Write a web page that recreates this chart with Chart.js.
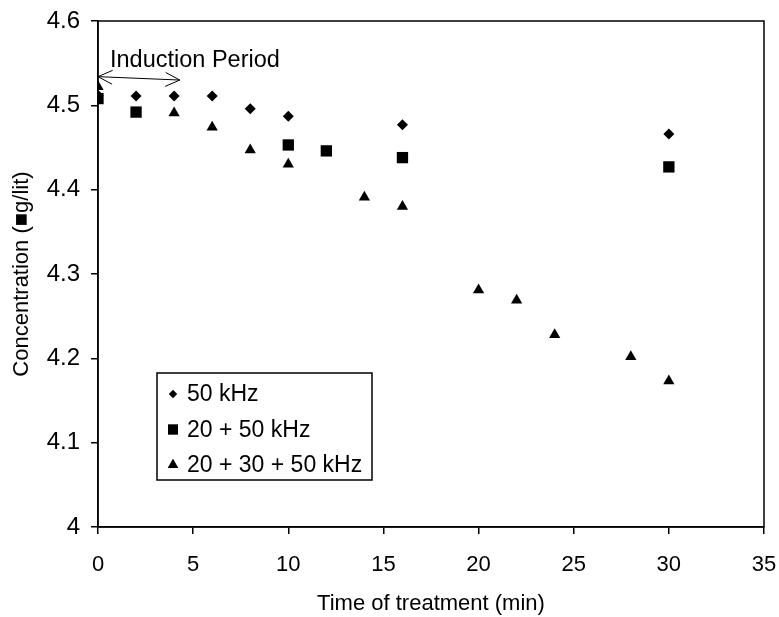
<!DOCTYPE html>
<html>
<head>
<meta charset="utf-8">
<script src="https://cdn.jsdelivr.net/npm/chart.js@4"></script>
<style>
  html, body { margin: 0; padding: 0; background: #fff; }
  #wrap { width: 779px; height: 617px; }
</style>
</head>
<body>
<div id="wrap"><canvas id="chart" width="779" height="617"></canvas></div>
<script>
// data
const timeA = [0, 2, 4, 6, 8, 10, 16, 30];
const concA = [4.512, 4.511, 4.511, 4.511, 4.496, 4.487, 4.477, 4.466];
const timeB = [0, 2, 10, 12, 16, 30];
const concB = [4.508, 4.492, 4.453, 4.446, 4.438, 4.427];
const timeC = [0, 4, 6, 8, 10, 14, 16, 20, 22, 24, 28, 30];
const concC = [4.522, 4.491, 4.474, 4.447, 4.43, 4.391, 4.38, 4.281, 4.269, 4.228, 4.202, 4.173];
const seriesNames = ['50 kHz', '20 + 50 kHz', '20 + 30 + 50 kHz'];
const xTicks = [0, 5, 10, 15, 20, 25, 30, 35];
const yTicks = [4, 4.1, 4.2, 4.3, 4.4, 4.5, 4.6];
// induction period arrow (time, conc)
const arrowFrom = [0, 4.534];
const arrowTo = [4.3, 4.530];
const arrowLabel = 'Induction Period';
const arrowLabelAt = [0.63, 4.545];

const font = 'Liberation Sans, Arial, sans-serif';
const ctx = document.querySelector('#chart').getContext('2d');

function pairs(xs, ys) {
    return xs.map((x, i) => ({x: x, y: ys[i]}));
}

const frame = {
    id: 'frame',
    afterDraw: (chart) => {
        const c = chart.ctx;
        const {left, right, top, bottom} = chart.chartArea;
        c.save();
        c.strokeStyle = '#000';
        c.lineWidth = 1.5;
        c.strokeRect(left, top, right - left, bottom - top);
        c.restore();
    }
};

const arrow = {
    id: 'arrow',
    afterDraw: (chart) => {
        const c = chart.ctx;
        const xs = chart.scales.x, ys = chart.scales.y;
        const x1 = xs.getPixelForValue(arrowFrom[0]), y1 = ys.getPixelForValue(arrowFrom[1]);
        const x2 = xs.getPixelForValue(arrowTo[0]), y2 = ys.getPixelForValue(arrowTo[1]);
        const ang = Math.atan2(y2 - y1, x2 - x1);
        const len = 16, spread = 0.45;
        c.save();
        c.strokeStyle = '#000';
        c.lineWidth = 1;
        c.beginPath();
        c.moveTo(x1, y1);
        c.lineTo(x2, y2);
        // heads
        c.moveTo(x1 + len * Math.cos(ang - spread), y1 + len * Math.sin(ang - spread));
        c.lineTo(x1, y1);
        c.lineTo(x1 + len * Math.cos(ang + spread), y1 + len * Math.sin(ang + spread));
        c.moveTo(x2 - len * Math.cos(ang - spread), y2 - len * Math.sin(ang - spread));
        c.lineTo(x2, y2);
        c.lineTo(x2 - len * Math.cos(ang + spread), y2 - len * Math.sin(ang + spread));
        c.stroke();
        c.fillStyle = '#000';
        c.font = '23.5px ' + font;
        c.textBaseline = 'alphabetic';
        c.fillText(arrowLabel, xs.getPixelForValue(arrowLabelAt[0]), ys.getPixelForValue(arrowLabelAt[1]));
        c.restore();
    }
};

// legend box drawn inside the plot, lower left
const boxLegend = {
    id: 'boxLegend',
    afterDraw: (chart) => {
        const c = chart.ctx;
        const {left, bottom} = chart.chartArea;
        const bx = left + 59, by = bottom - 154, bw = 215, bh = 107;
        c.save();
        c.fillStyle = '#fff';
        c.fillRect(bx, by, bw, bh);
        c.strokeStyle = '#000';
        c.lineWidth = 1.5;
        c.strokeRect(bx, by, bw, bh);
        c.font = '23px ' + font;
        c.textBaseline = 'middle';
        chart.data.datasets.forEach((ds, i) => {
            const cy = by + 21 + i * 35.5;
            Chart.helpers.drawPoint(c, {
                pointStyle: ds.pointStyle,
                radius: ds.legendRadius,
                borderWidth: 0
            }, bx + 16, cy);
            c.fillStyle = '#000';
            c.fill();
            c.fillText(ds.label, bx + 30, cy + 1);
        });
        c.restore();
    }
};

new Chart(ctx, {
    type: 'scatter',
    data: {
        datasets: [{
            label: seriesNames[0],
            data: pairs(timeA, concA),
            pointStyle: 'rectRot',
            pointRadius: 5.5,
            legendRadius: 4.2,
            backgroundColor: '#000',
            borderColor: '#000',
            borderWidth: 0
        }, {
            label: seriesNames[1],
            data: pairs(timeB, concB),
            pointStyle: 'rect',
            pointRadius: 8,
            legendRadius: 7,
            backgroundColor: '#000',
            borderColor: '#000',
            borderWidth: 0
        }, {
            label: seriesNames[2],
            data: pairs(timeC, concC),
            pointStyle: 'triangle',
            pointRadius: 6.5,
            legendRadius: 6,
            backgroundColor: '#000',
            borderColor: '#000',
            borderWidth: 0
        }]
    },
    plugins: [frame, arrow, boxLegend],
    options: {
        responsive: false,
        animation: false,
        events: [],
        layout: {
            padding: {top: 21, right: 15, left: 0, bottom: 0}
        },
        scales: {
            x: {
                type: 'linear',
                min: 0,
                max: 35,
                afterBuildTicks: (s) => { s.ticks = xTicks.map(v => ({value: v})); },
                afterFit: (s) => {
                    s.height = 90;
                    s.paddingLeft = 0;
                    s.paddingRight = 0;
                },
                grid: {
                    drawOnChartArea: false,
                    drawTicks: true,
                    tickLength: 7,
                    color: '#000',
                    lineWidth: 1.5
                },
                border: {color: '#000', width: 1.5},
                ticks: {
                    color: '#000',
                    padding: 18,
                    maxRotation: 0,
                    font: {family: font, size: 22}
                },
                title: {
                    display: true,
                    text: 'Time of treatment (min)',
                    color: '#000',
                    padding: {top: 10, bottom: 0},
                    font: {family: font, size: 22}
                }
            },
            y: {
                type: 'linear',
                min: 4,
                max: 4.6,
                afterBuildTicks: (s) => { s.ticks = yTicks.map(v => ({value: v})); },
                afterFit: (s) => {
                    s.width = 98;
                    s.paddingTop = 0;
                    s.paddingBottom = 0;
                },
                grid: {
                    drawOnChartArea: false,
                    drawTicks: true,
                    tickLength: 7,
                    color: '#000',
                    lineWidth: 1.5
                },
                border: {color: '#000', width: 1.5},
                ticks: {
                    color: '#000',
                    padding: 11,
                    font: {family: font, size: 24},
                    callback: (v) => String(Math.round(v * 10) / 10)
                },
                title: {
                    display: true,
                    text: 'Concentration (\u25A0g/lit)',
                    color: '#000',
                    padding: {top: 9, bottom: 4},
                    font: {family: font, size: 22}
                }
            }
        },
        plugins: {
            legend: {display: false},
            tooltip: {enabled: false}
        }
    }
});
</script>
</body>
</html>
